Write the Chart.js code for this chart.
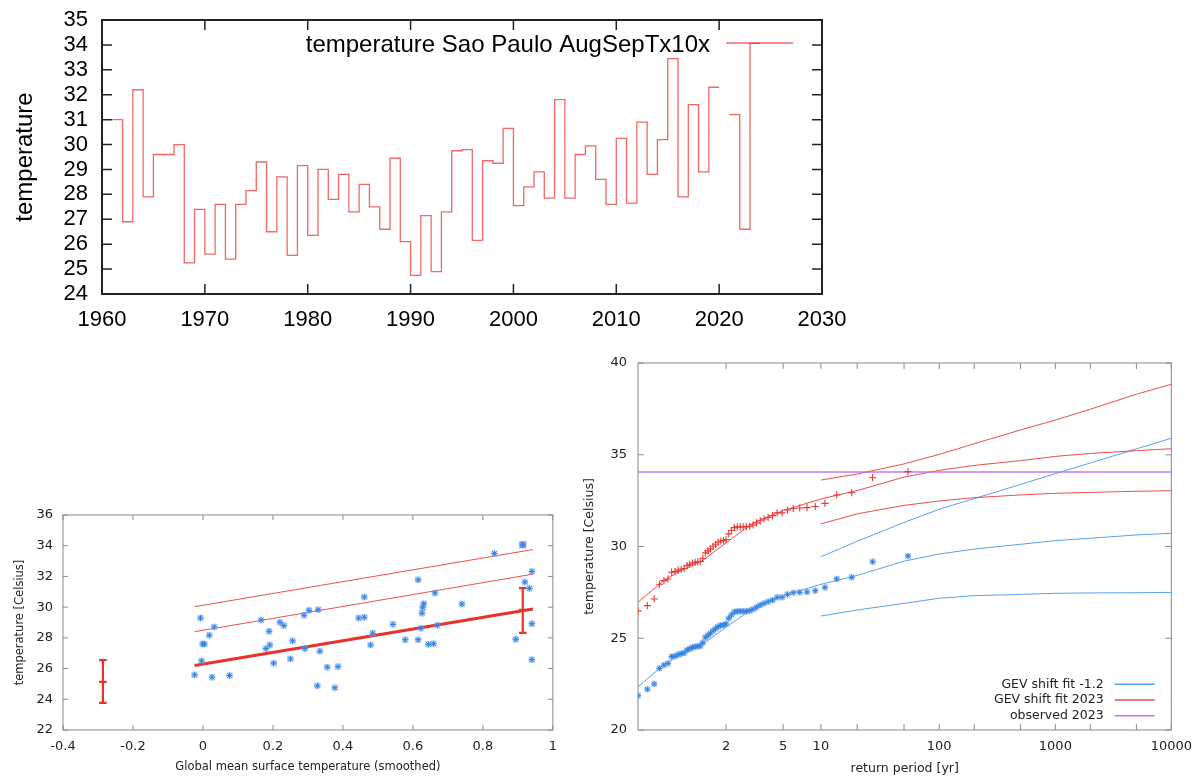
<!DOCTYPE html>
<html><head><meta charset="utf-8">
<script src="https://cdn.jsdelivr.net/npm/chart.js@4.4.1/dist/chart.umd.min.js"></script>
<style>
html,body{margin:0;padding:0;background:#fff;}
body{width:1194px;height:778px;position:relative;overflow:hidden;}
.box{position:absolute;}
canvas{display:block;}
</style></head><body>
<div class="box" style="left:0;top:-8px;"><canvas id="c1" width="860" height="348"></canvas></div>
<div class="box" style="left:0;top:490px;"><canvas id="c2" width="566" height="288"></canvas></div>
<div class="box" style="left:560px;top:340px;"><canvas id="c3" width="641" height="438"></canvas></div>
<script>
// ---------- DATA: top panel ----------
const years = [1961,1962,1963,1964,1965,1966,1967,1968,1969,1970,1971,1972,1973,1974,1975,1976,1977,1978,1979,1980,
  1981,1982,1983,1984,1985,1986,1987,1988,1989,1990,1991,1992,1993,1994,1995,1996,1997,1998,1999,2000,
  2001,2002,2003,2004,2005,2006,2007,2008,2009,2010,2011,2012,2013,2014,2015,2016,2017,2018,2019,2020,
  2021,2022,2023];
const txValues = [31.0,26.9,32.2,27.9,29.6,29.6,30.0,25.25,27.4,25.6,27.6,25.4,27.6,28.15,29.3,26.5,28.7,25.55,29.15,26.35,
  29.0,27.8,28.8,27.3,28.4,27.5,26.6,29.45,26.1,24.75,27.15,24.9,27.3,29.75,29.8,26.15,29.35,29.25,30.65,27.55,
  28.3,28.9,27.85,31.8,27.85,29.6,29.95,28.6,27.6,30.25,27.65,30.9,28.8,30.2,33.45,27.9,31.6,28.9,32.3,null,
  31.2,26.6,34.06];
const topLabel = 'temperature Sao Paulo AugSepTx10x';

// ---------- DATA: bottom-left (scatter vs GMST) ----------
const gmst = [-0.024,-0.007,-0.004,-0.001,0.004,0.018,0.026,0.032,0.076,0.166,0.18,0.189,0.191,0.202,0.22,0.231,0.25,0.256,
  0.289,0.291,0.303,0.329,0.327,0.334,0.355,0.377,0.386,0.445,0.461,0.461,0.479,0.485,0.543,0.578,0.615,0.615,
  0.623,0.626,0.628,0.631,0.644,0.659,0.663,0.67,0.74,0.833,0.894,0.92,0.933,0.94,0.94,0.94,0.914];
const obsTemp = [25.59,29.29,26.5,27.6,27.6,28.17,25.44,28.71,25.55,29.16,27.3,28.43,27.54,26.35,29.01,28.8,26.63,27.8,
  29.47,27.3,29.79,29.83,24.88,27.13,26.09,24.75,26.13,29.29,29.34,30.66,27.54,28.3,28.88,27.88,31.78,27.88,
  28.62,29.6,29.96,30.22,27.58,27.62,30.92,28.82,30.2,33.49,27.91,31.63,31.22,32.32,28.92,26.58,34.06];
const gmst2023 = [0.914];
const obs2023 = [34.06];
const trendX = [-0.024, 0.943];
const trendMean = [26.2, 29.88];
const trendMid = [28.4, 32.15];
const trendTop = [30.03, 33.75];
const ebX = [-0.286, 0.914];
const ebLow = [23.77, 28.32];
const ebMid = [25.14, 29.82];
const ebHigh = [26.55, 31.24];

// ---------- DATA: bottom-right (return periods) ----------
const retPeriods = [54,27,18,13.5,10.8,9,7.714,6.75,6,5.4,4.909,4.5,4.154,3.857,3.6,3.375,3.176,3,2.842,2.7,2.571,2.455,2.348,
  2.25,2.16,2.077,2,1.929,1.862,1.8,1.742,1.688,1.636,1.588,1.543,1.5,1.459,1.421,1.385,1.35,1.317,1.286,1.256,1.227,1.2,
  1.174,1.149,1.125,1.102,1.08,1.059,1.038,1.019];
const pastPts = [29.48,29.17,28.32,28.23,27.77,27.59,27.52,27.5,27.48,27.39,27.23,27.23,27.08,26.99,26.9,26.81,26.69,26.58,
  26.5,26.47,26.47,26.47,26.47,26.43,26.27,26.09,25.78,25.72,25.7,25.63,25.52,25.41,25.27,25.16,25.05,24.76,24.58,24.56,
  24.54,24.5,24.43,24.36,24.2,24.16,24.11,24.03,24.0,23.63,23.54,23.36,22.51,22.22,21.87];
const nowPts = [34.08,33.75,32.93,32.81,32.35,32.18,32.12,32.1,32.07,31.99,31.83,31.83,31.68,31.58,31.5,31.4,31.29,31.18,
  31.1,31.07,31.07,31.07,31.07,31.03,30.87,30.69,30.38,30.32,30.3,30.23,30.12,30.01,29.87,29.76,29.65,29.36,29.18,29.16,
  29.14,29.1,29.03,28.96,28.8,28.76,28.71,28.63,28.6,28.23,28.14,27.94,27.14,26.78,26.49];
const fitT = [1.019,1.1,1.2,1.5,2,3,5,10,20,50,100,200,500,1000,2000,5000,10000];
const pastFit = [22.36,23.54,24.03,24.67,25.6,26.62,27.32,27.94,28.42,29.2,29.59,29.86,30.12,30.32,30.45,30.63,30.72];
const nowFit = [26.96,28.14,28.6,29.25,30.2,31.28,31.96,32.59,33.05,33.78,34.15,34.42,34.68,34.91,35.07,35.22,35.33];
const boundT = [10,20,50,100,200,500,1000,2000,5000,10000];
const pastHi = [29.44,30.28,31.31,32.03,32.61,33.38,33.97,34.55,35.32,35.9];
const pastLo = [26.21,26.54,26.9,27.18,27.32,27.39,27.45,27.47,27.48,27.5];
const nowHi = [33.62,33.95,34.5,35.02,35.6,36.35,36.89,37.48,38.3,38.84];
const nowLo = [31.23,31.78,32.24,32.48,32.66,32.81,32.9,32.95,33.01,33.04];
const tickPeriods = [2,5,10,20,50,100,200,500,1000,2000,5000,10000];
const labelPeriods = [2,5,10,100,1000,10000];
const legendLabels = ['GEV shift fit -1.2','GEV shift fit 2023','observed 2023'];

// ---------- helpers ----------
const gumbel = T => -Math.log(-Math.log(1 - 1 / T));
const zip = (xs, ys) => xs.map((x, i) => ({x: x, y: ys[i]}));
function stepPoints(yrs, vals) {
  const pts = [];
  yrs.forEach((yr, i) => {
    const v = vals[i];
    if (v === null) { pts.push({x: yr + 0.5, y: null}); return; }
    pts.push({x: yr, y: v});
    pts.push({x: yr + 1, y: v});
  });
  return pts;
}
const framePlugin = {
  id: 'frame',
  beforeDatasetsDraw(chart, args, o) {
    const {ctx, chartArea: a} = chart;
    const xs = chart.scales.x, ys = chart.scales.y;
    ctx.save();
    ctx.strokeStyle = o.color;
    ctx.lineWidth = o.tickWidth;
    ctx.beginPath();
    xs.ticks.forEach(t => {
      const p = xs.getPixelForValue(t.value);
      if (o.bottom) { ctx.moveTo(p, a.bottom); ctx.lineTo(p, a.bottom - o.len); }
      if (o.top) { ctx.moveTo(p, a.top); ctx.lineTo(p, a.top + o.len); }
    });
    ys.ticks.forEach(t => {
      const p = ys.getPixelForValue(t.value);
      if (o.left) { ctx.moveTo(a.left, p); ctx.lineTo(a.left + o.len, p); }
      if (o.right) { ctx.moveTo(a.right, p); ctx.lineTo(a.right - o.len, p); }
    });
    ctx.stroke();
    ctx.lineWidth = o.width;
    ctx.strokeRect(a.left, a.top, a.right - a.left, a.bottom - a.top);
    ctx.restore();
  }
};
const legendPlugin = {
  id: 'keyBox',
  afterDatasetsDraw(chart, args, o) {
    const {ctx, chartArea: a} = chart;
    ctx.save();
    ctx.font = o.font;
    ctx.fillStyle = o.textColor;
    ctx.textAlign = 'right';
    ctx.textBaseline = 'middle';
    o.items.forEach((it, i) => {
      const y = a.top + o.dy + i * o.rowH;
      ctx.fillText(it.text, a.right - o.textRight, y);
      ctx.strokeStyle = it.color;
      ctx.lineWidth = it.width || 1;
      ctx.beginPath();
      ctx.moveTo(a.right - o.lineFrom, y - (o.lineDy || 0));
      ctx.lineTo(a.right - o.lineTo, y - (o.lineDy || 0));
      ctx.stroke();
    });
    ctx.restore();
  }
};
const fmt1 = v => String(Number(Number(v).toFixed(1)) || 0);

Chart.defaults.animation = false;
Chart.defaults.plugins.legend.display = false;
Chart.defaults.plugins.tooltip.enabled = false;

// ---------- chart 1: time series ----------
const topFont = 'Liberation Sans';
const topRed = 'rgba(236,45,45,0.72)';
new Chart(document.getElementById('c1'), {
  type: 'line',
  data: { datasets: [{ label: topLabel, data: stepPoints(years, txValues), borderColor: topRed, borderWidth: 1.3,
    pointRadius: 0, spanGaps: false, tension: 0 }] },
  options: {
    responsive: false,
    layout: { padding: { left: 0, top: 28, right: 38, bottom: 0 } },
    plugins: {
      frame: { color: '#222', width: 2, tickWidth: 1.5, len: 10, top: true, bottom: true, left: true, right: true },
      keyBox: { font: '24px "' + topFont + '"', textColor: '#000', dy: 25, rowH: 0, textRight: 112, lineFrom: 96, lineTo: 29, lineDy: 2,
        items: [{ text: topLabel, color: topRed, width: 1.3 }] }
    },
    scales: {
      x: { type: 'linear', min: 1960, max: 2030, afterFit: s => { s.height = 46; },
        grid: { display: false, drawTicks: false }, border: { display: false },
        ticks: { stepSize: 10, padding: 13, autoSkip: false, maxRotation: 0, color: '#000',
          font: { family: topFont, size: 22 }, callback: v => String(v) } },
      y: { type: 'linear', min: 24, max: 35, afterFit: s => { s.width = 102; },
        grid: { display: false, drawTicks: false }, border: { display: false },
        ticks: { stepSize: 1, padding: 14, autoSkip: false, color: '#000', font: { family: topFont, size: 22 } },
        title: { display: true, text: 'temperature', color: '#000', font: { family: topFont, size: 24 }, padding: { top: 11, bottom: 0 } } }
    }
  },
  plugins: [framePlugin, legendPlugin]
});

// ---------- chart 2: scatter vs GMST ----------
const dv = 'DejaVu Sans';
const ptBlue = '#2f80e4';
const haloBlue = 'rgba(135,180,245,0.45)';
const lineRed = 'rgba(232,52,44,0.85)';
new Chart(document.getElementById('c2'), {
  type: 'scatter',
  data: { datasets: [
    { data: zip(gmst, obsTemp), pointStyle: 'star', pointRadius: 3.2, borderColor: ptBlue, borderWidth: 1 },
    { data: zip(gmst, obsTemp), pointStyle: 'rect', pointRadius: 4.6, backgroundColor: haloBlue, borderWidth: 0 },
    { data: zip(gmst2023, obs2023), pointStyle: 'rect', pointRadius: 5, backgroundColor: 'rgba(160,110,235,0.85)', borderWidth: 0 },
    { data: zip([ebX[0], ebX[0], ebX[0]], [ebLow[0], ebMid[0], ebHigh[0]]), showLine: true, borderColor: '#e8322a', borderWidth: 2.2,
      pointStyle: 'line', pointRadius: 3.8, pointBorderWidth: 2.2, pointBorderColor: '#e8322a' },
    { data: zip([ebX[1], ebX[1], ebX[1]], [ebLow[1], ebMid[1], ebHigh[1]]), showLine: true, borderColor: '#e8322a', borderWidth: 2.2,
      pointStyle: 'line', pointRadius: 3.8, pointBorderWidth: 2.2, pointBorderColor: '#e8322a' },
    { data: zip(trendX, trendMean), showLine: true, borderColor: '#e8322a', borderWidth: 3, pointRadius: 0 },
    { data: zip(trendX, trendMid), showLine: true, borderColor: lineRed, borderWidth: 1, pointRadius: 0 },
    { data: zip(trendX, trendTop), showLine: true, borderColor: lineRed, borderWidth: 1, pointRadius: 0 }
  ] },
  options: {
    responsive: false,
    layout: { padding: { left: 0, top: 25, right: 7, bottom: 4 } },
    plugins: { frame: { color: '#8a8a8a', width: 1, tickWidth: 1, len: 5, top: true, bottom: true, left: true, right: true } },
    scales: {
      x: { type: 'linear', min: -0.4, max: 1, afterFit: s => { s.height = 44; },
        grid: { display: false, drawTicks: false }, border: { display: false },
        ticks: { stepSize: 0.2, padding: 9, autoSkip: false, maxRotation: 0, color: '#222', font: { family: dv, size: 13 }, callback: fmt1 },
        title: { display: true, text: 'Global mean surface temperature (smoothed)', color: '#222', font: { family: dv, size: 11.5 }, padding: { top: 0, bottom: 0 } } },
      y: { type: 'linear', min: 22, max: 36, afterFit: s => { s.width = 63; },
        grid: { display: false, drawTicks: false }, border: { display: false },
        ticks: { stepSize: 2, padding: 10, autoSkip: false, color: '#222', font: { family: dv, size: 13 } },
        title: { display: true, text: 'temperature [Celsius]', color: '#222', font: { family: dv, size: 11.5 }, padding: { top: 13, bottom: 0 } } }
    }
  },
  plugins: [framePlugin]
});

// ---------- chart 3: return periods ----------
const fitBlue = 'rgba(70,150,236,0.9)';
const fitRed = 'rgba(232,60,55,0.9)';
const purple = 'rgba(190,110,245,0.95)';
const xMin = gumbel(Math.min(...retPeriods));
const xMax = gumbel(10000);
const tx = arr => arr.map(gumbel);
new Chart(document.getElementById('c3'), {
  type: 'scatter',
  data: { datasets: [
    { data: zip(tx(retPeriods), nowPts), pointStyle: 'cross', pointRadius: 3.6, borderColor: '#e83a34', borderWidth: 1.1 },
    { data: zip(tx(retPeriods), pastPts), pointStyle: 'star', pointRadius: 3, borderColor: ptBlue, borderWidth: 1 },
    { data: zip(tx(retPeriods), pastPts), pointStyle: 'rect', pointRadius: 4.4, backgroundColor: haloBlue, borderWidth: 0 },
    { data: zip([xMin, xMax], [obs2023[0], obs2023[0]]), showLine: true, borderColor: purple, borderWidth: 1.5, pointRadius: 0 },
    { data: zip(tx(fitT), nowFit), showLine: true, borderColor: fitRed, borderWidth: 1, pointRadius: 0 },
    { data: zip(tx(boundT), nowHi), showLine: true, borderColor: fitRed, borderWidth: 1, pointRadius: 0 },
    { data: zip(tx(boundT), nowLo), showLine: true, borderColor: fitRed, borderWidth: 1, pointRadius: 0 },
    { data: zip(tx(fitT), pastFit), showLine: true, borderColor: fitBlue, borderWidth: 1, pointRadius: 0 },
    { data: zip(tx(boundT), pastHi), showLine: true, borderColor: fitBlue, borderWidth: 1, pointRadius: 0 },
    { data: zip(tx(boundT), pastLo), showLine: true, borderColor: fitBlue, borderWidth: 1, pointRadius: 0 }
  ] },
  options: {
    responsive: false,
    layout: { padding: { left: 0, top: 23, right: 22, bottom: 0 } },
    plugins: {
      frame: { color: '#8a8a8a', width: 1, tickWidth: 1, len: 6, top: true, bottom: true, left: true, right: true },
      keyBox: { font: '12.5px "' + dv + '"', textColor: '#222', dy: 321.3, rowH: 15.7, textRight: 67.7, lineFrom: 56.7, lineTo: 16.7, lineDy: 0,
        items: [{ text: legendLabels[0], color: fitBlue, width: 1.5 }, { text: legendLabels[1], color: fitRed, width: 1.5 }, { text: legendLabels[2], color: purple, width: 1.5 }] }
    },
    scales: {
      x: { type: 'linear', min: xMin, max: xMax, afterFit: s => { s.height = 48; },
        afterBuildTicks: s => { s.ticks = tickPeriods.map(T => ({ value: gumbel(T) })); },
        grid: { display: false, drawTicks: false }, border: { display: false },
        ticks: { padding: 9, autoSkip: false, maxRotation: 0, color: '#222', font: { family: dv, size: 13 },
          callback: (v, i) => labelPeriods.includes(tickPeriods[i]) ? String(tickPeriods[i]) : '' },
        title: { display: true, text: 'return period [yr]', color: '#222', font: { family: dv, size: 12.5 }, padding: { top: 0, bottom: 1.5 } } },
      y: { type: 'linear', min: 20, max: 40, afterFit: s => { s.width = 78; },
        grid: { display: false, drawTicks: false }, border: { display: false },
        ticks: { stepSize: 5, padding: 11, autoSkip: false, color: '#222', font: { family: dv, size: 13 } },
        title: { display: true, text: 'temperature [Celsius]', color: '#222', font: { family: dv, size: 12.5 }, padding: { top: 22.5, bottom: 0 } } }
    }
  },
  plugins: [framePlugin, legendPlugin]
});
</script>
</body></html>
